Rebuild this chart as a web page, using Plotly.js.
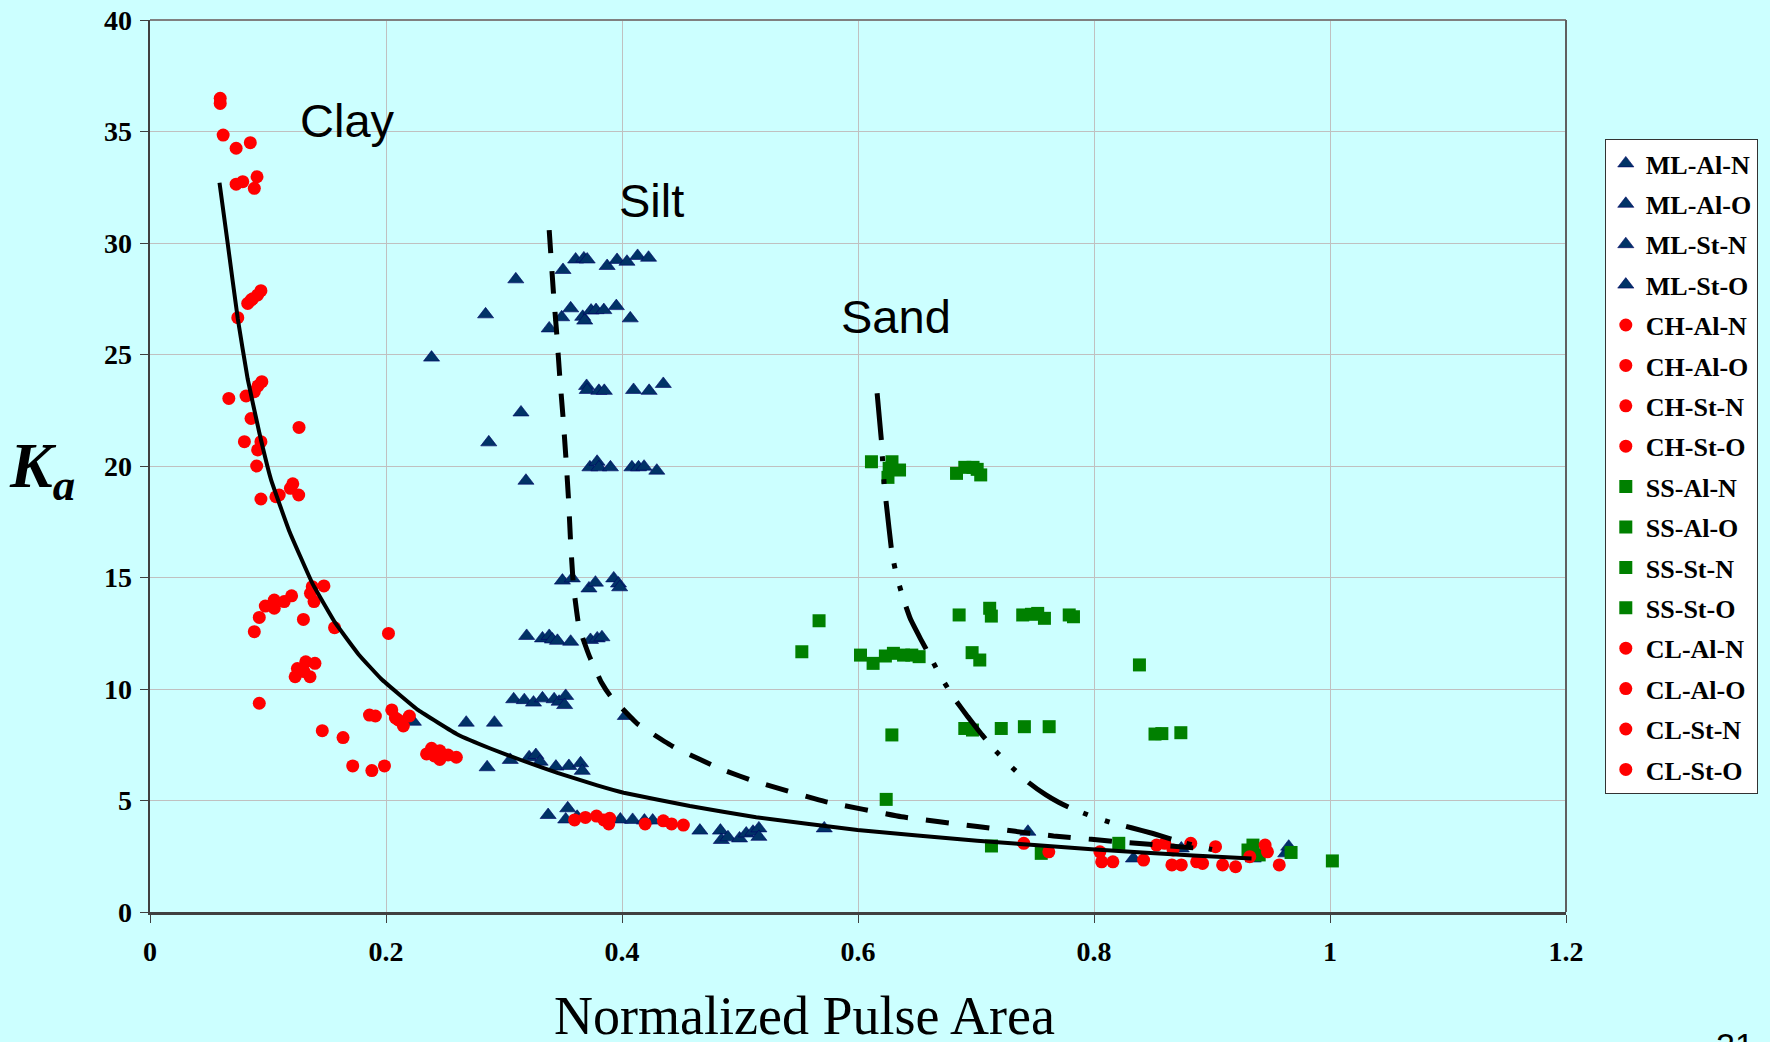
<!DOCTYPE html>
<html>
<head>
<meta charset="utf-8">
<script src="https://cdn.plot.ly/plotly-3.0.1.min.js"></script>
<style>html,body{margin:0;padding:0;background:#CCFFFF;}</style>
</head>
<body>
<div id="chart" style="width:1770px;height:1042px;"></div>
<script>
// ---------- Data ----------
// ML (silt) series – blue triangles
const mlAlN_x = [0.3607,0.3677,0.3705,0.350,0.310,0.3874,0.3958,0.4042,0.4132,0.4225,0.3186,0.3728,0.3789,0.3804,0.3902,0.4084,0.414,0.4187,0.4295,0.2386];
const mlAlN_y = [29.26,29.31,29.26,28.79,28.37,28.97,29.24,29.16,29.42,29.34,19.34,19.94,20.19,19.94,19.94,19.94,19.94,19.97,19.79,24.86];
const mlAlO_x = [0.2844,0.3383,0.3489,0.3565,0.3667,0.3684,0.3738,0.378,0.3846,0.3952,0.4070,0.3495,0.3579,0.372,0.3775,0.393,0.397,0.398,0.3144,0.2871];
const mlAlO_y = [26.8,26.17,26.67,27.07,26.69,26.52,26.97,26.99,26.99,27.17,26.62,14.86,14.96,14.51,14.77,14.96,14.73,14.56,22.4,21.06];
const mlStN_x = [0.370,0.3705,0.3804,0.385,0.4098,0.423,0.435,0.3192,0.3326,0.3383,0.341,0.3453,0.3565,0.3733,0.379,0.383,0.4028,0.268,0.2919,0.2232];
const mlStN_y = [23.59,23.41,23.37,23.37,23.41,23.37,23.68,12.38,12.27,12.38,12.22,12.16,12.12,12.2,12.27,12.32,8.79,8.49,8.49,8.53];
const mlStO_x = [0.3082,0.3172,0.325,0.3326,0.3425,0.3467,0.3523,0.3514,0.2857,0.3053,0.3213,0.327,0.3306,0.344,0.355,0.3649,0.3663,0.3374,0.354,0.3523,0.362,0.3986,0.409,0.419,0.426,0.466,0.4834,0.4842,0.4898,0.4996,0.5053,0.511,0.516,0.516,0.5714,0.744,0.8334,0.874,0.935,0.9625,0.965];
const mlStO_y = [9.54,9.5,9.39,9.58,9.54,9.43,9.69,9.28,6.49,6.82,6.94,7.04,6.74,6.52,6.55,6.67,6.33,4.35,4.65,4.15,4.27,4.15,4.13,4.1,4.1,3.65,3.65,3.23,3.35,3.3,3.52,3.6,3.75,3.37,3.75,3.6,2.4,2.85,2.4,2.63,2.93];

// CH (high plasticity clay) – red circles
const chAlN_x = [0.0595,0.0595,0.062,0.073,0.085,0.073,0.0786,0.0907,0.0884,0.094,0.0912,0.0856,0.0828,0.0870,0.0744];
const chAlN_y = [36.49,36.26,34.84,34.25,34.5,32.64,32.75,32.97,32.45,27.86,27.67,27.44,27.29,27.5,26.65];
const chAlO_x = [0.0948,0.0915,0.0884,0.0814,0.0668,0.0856,0.1263,0.08,0.094,0.0912,0.0904,0.119,0.1095,0.126,0.094,0.1067,0.121];
const chAlO_y = [23.78,23.59,23.33,23.14,23.03,22.13,21.73,21.09,21.09,20.72,20.0,19.0,18.7,18.7,18.52,18.62,19.2];
const chStN_x = [0.1375,0.1474,0.136,0.139,0.120,0.1137,0.1053,0.0977,0.1053,0.0926,0.0884,0.13,0.1564,0.2021];
const chStN_y = [14.59,14.62,14.29,13.92,14.18,13.92,13.99,13.72,13.62,13.21,12.57,13.12,12.75,12.49];
const chStO_x = [0.132,0.1398,0.1249,0.123,0.1356,0.1305,0.0926,0.146,0.1636,0.1718,0.188,0.1987,0.186,0.191,0.2049,0.2105,0.2147,0.2198,0.208,0.2344,0.2386,0.2456,0.2456,0.2526,0.2596,0.241];
const chStO_y = [11.22,11.15,10.92,10.55,10.55,10.78,9.36,8.13,7.82,6.55,6.34,6.55,8.83,8.79,9.06,8.61,8.34,8.79,8.7,7.09,7.34,7.23,6.84,7.04,6.94,7.0];

// SS (sand) – green squares
const ssAlN_x = [0.6114,0.6288,0.6352,0.6254,0.6264,0.6835,0.6905,0.6975,0.704,0.701];
const ssAlN_y = [20.19,20.19,19.82,19.49,19.9,19.67,19.94,19.94,19.6,19.85];
const ssAlO_x = [0.567,0.6857,0.7116,0.713,0.7396,0.7523,0.758,0.779,0.7826,0.747];
const ssAlO_y = [13.06,13.32,13.62,13.27,13.32,13.39,13.17,13.32,13.24,13.35];
const ssStN_x = [0.5524,0.6021,0.6128,0.6232,0.630,0.6386,0.6456,0.6518,0.6967,0.7032,0.8385];
const ssStN_y = [11.67,11.52,11.15,11.48,11.6,11.52,11.52,11.45,11.63,11.3,11.08];
const ssStO_x = [0.6905,0.697,0.7214,0.741,0.762,0.6287,0.8517,0.8575,0.8736,0.6239,0.7131,0.7553,0.821,0.9347,0.9305,0.940,0.967,1.002];
const ssStO_y = [8.23,8.16,8.23,8.31,8.31,7.94,7.98,8.0,8.04,5.05,2.96,2.63,3.08,3.0,2.78,2.56,2.67,2.29];

// CL (low plasticity clay) – red circles
const clAlN_x = [0.3598,0.369,0.3784,0.3846,0.3896,0.3888,0.4196,0.435,0.442,0.452];
const clAlN_y = [4.13,4.24,4.30,4.13,4.20,3.95,3.95,4.09,3.95,3.90];
const clAlO_x = [0.7405,0.7617,0.805,0.8065,0.816,0.842,0.853];
const clAlO_y = [3.08,2.70,2.70,2.25,2.25,2.33,3.0];
const clStN_x = [0.860,0.866,0.874,0.882,0.887,0.892,0.867];
const clStN_y = [3.08,2.11,2.11,3.08,2.25,2.18,2.78];
const clStO_x = [0.903,0.909,0.920,0.932,0.945,0.947,0.957];
const clStO_y = [2.93,2.11,2.03,2.48,3.0,2.70,2.11];

// Trend curves
const clayCurve_x = [0.0589,0.0658,0.0744,0.0828,0.0926,0.1025,0.1179,0.1375,0.1572,0.1768,0.1960,0.2274,0.2610,0.2890,0.3172,0.3453,0.3790,0.4014,0.4575,0.5137,0.5996,0.7010,0.7979,0.8840,0.9335];
const clayCurve_y = [32.7,30.0,26.6,23.9,21.5,19.4,17.1,14.75,12.95,11.55,10.45,9.05,7.95,7.32,6.76,6.24,5.68,5.35,4.75,4.25,3.68,3.2,2.81,2.53,2.40];
const siltCurve_x = [0.3383,0.3419,0.3447,0.3472,0.3501,0.3526,0.3548,0.3565,0.3588,0.3635,0.3725,0.3825,0.3900,0.4126,0.4435,0.4856,0.5137,0.5723,0.6368,0.7012,0.7657,0.8300,0.8900];
const siltCurve_y = [30.58,27.77,25.92,24.04,22.14,20.27,18.4,16.53,14.66,12.79,11.45,10.3,9.7,8.46,7.41,6.37,5.84,4.95,4.27,3.83,3.41,3.11,2.85];
const sandCurve_x = [0.6162,0.6198,0.6209,0.6223,0.6240,0.6288,0.6324,0.6380,0.6442,0.6530,0.6619,0.6709,0.6820,0.6930,0.7050,0.7172,0.7312,0.7447,0.7593,0.7700,0.7785,0.7963,0.8139,0.8317,0.8500,0.8700,0.8886,0.9000];
const sandCurve_y = [23.26,21.17,20.19,19.12,18.3,16.08,15.16,14.11,13.17,12.25,11.38,10.48,9.55,8.76,7.95,7.19,6.45,5.8,5.25,4.92,4.7,4.33,4.02,3.78,3.52,3.2,2.93,2.8];

const seriesNames = ['ML-Al-N','ML-Al-O','ML-St-N','ML-St-O','CH-Al-N','CH-Al-O','CH-St-N','CH-St-O','SS-Al-N','SS-Al-O','SS-St-N','SS-St-O','CL-Al-N','CL-Al-O','CL-St-N','CL-St-O'];
const xTickVals = [0,0.2,0.4,0.6,0.8,1,1.2];
const yTickVals = [0,5,10,15,20,25,30,35,40];
const zoneLabels = ['Clay','Silt','Sand'];
const zoneX = [0.1676,0.425,0.632];
const zoneY = [35.5,31.9,26.7];

// ---------- Styles ----------
const triStyle = {symbol:'triangle-up', size:14, color:'#003366', line:{color:'#000066', width:0.6}};
const cirStyle = {symbol:'circle', size:13, color:'#FF0000', line:{width:0}};
const sqStyle  = {symbol:'square', size:13, color:'#008000', line:{width:0}};

const seriesData = [
  [mlAlN_x, mlAlN_y, triStyle],[mlAlO_x, mlAlO_y, triStyle],[mlStN_x, mlStN_y, triStyle],[mlStO_x, mlStO_y, triStyle],
  [chAlN_x, chAlN_y, cirStyle],[chAlO_x, chAlO_y, cirStyle],[chStN_x, chStN_y, cirStyle],[chStO_x, chStO_y, cirStyle],
  [ssAlN_x, ssAlN_y, sqStyle],[ssAlO_x, ssAlO_y, sqStyle],[ssStN_x, ssStN_y, sqStyle],[ssStO_x, ssStO_y, sqStyle],
  [clAlN_x, clAlN_y, cirStyle],[clAlO_x, clAlO_y, cirStyle],[clStN_x, clStN_y, cirStyle],[clStO_x, clStO_y, cirStyle]
];

const traces = seriesData.map((s, i) => ({
  type:'scatter', mode:'markers', name: seriesNames[i], legendgroup: 'g' + i,
  x: s[0], y: s[1], marker: s[2], cliponaxis: true
}));

traces.push({type:'scatter', mode:'lines', x: clayCurve_x, y: clayCurve_y, showlegend:false,
  line:{color:'#000000', width:4, shape:'spline', smoothing:0.3}, hoverinfo:'skip'});
traces.push({type:'scatter', mode:'lines', x: siltCurve_x, y: siltCurve_y, showlegend:false,
  line:{color:'#000000', width:5, dash:'23px,18px', shape:'spline', smoothing:0.3}, hoverinfo:'skip'});
traces.push({type:'scatter', mode:'lines', x: sandCurve_x, y: sandCurve_y, showlegend:false,
  line:{color:'#000000', width:5, dash:'47px,16px,5px,18px,5px,17px', shape:'spline', smoothing:0.3}, hoverinfo:'skip'});

const tickFont = {family:'"Liberation Serif", "Times New Roman", serif', size:28, color:'#000000', weight:'bold'};

const annotations = zoneLabels.map((t, i) => ({
  text: t, x: zoneX[i], y: zoneY[i], xref:'x', yref:'y', showarrow:false,
  xanchor:'center', yanchor:'middle',
  font:{family:'"Liberation Sans", Arial, sans-serif', size:47, color:'#000000'}
}));
annotations.push({
  text:'<b><i>K<sub>a</sub></i></b>', xref:'paper', yref:'paper', x:-0.1008, y:0.4955,
  xanchor:'left', yanchor:'middle', showarrow:false,
  font:{family:'"Liberation Serif", "Times New Roman", serif', size:64, color:'#000000'}
});
annotations.push({
  text:'Normalized Pulse Area', xref:'paper', yref:'paper', x:0.4625, y:-0.117,
  xanchor:'center', yanchor:'middle', showarrow:false,
  font:{family:'"Liberation Serif", "Times New Roman", serif', size:54, color:'#000000'}
});
annotations.push({
  text:'21', xref:'paper', yref:'paper', x:1.1046, y:-0.1256,
  xanchor:'left', yanchor:'top', showarrow:false,
  font:{family:'"Liberation Sans", Arial, sans-serif', size:34, color:'#000000'}
});

const layout = {
  width:1770, height:1042,
  paper_bgcolor:'#CCFFFF', plot_bgcolor:'#CCFFFF',
  margin:{l:150, r:195, t:20, b:130, pad:0},
  showlegend:true,
  xaxis:{range:[0,1.2], tickvals:xTickVals, ticktext:xTickVals.map(String), showgrid:true, gridcolor:'#C0C0C0', gridwidth:1,
    zeroline:false, showline:true, linecolor:'#404040', linewidth:2.5, ticks:'outside', ticklen:8, tickwidth:1,
    tickcolor:'#404040', tickfont:tickFont, ticklabelstandoff:5, fixedrange:true},
  yaxis:{range:[0,40], tickvals:yTickVals, ticktext:yTickVals.map(String), showgrid:true, gridcolor:'#C0C0C0', gridwidth:1,
    zeroline:false, showline:true, linecolor:'#404040', linewidth:2.5, ticks:'outside', ticklen:8, tickwidth:1,
    tickcolor:'#404040', tickfont:tickFont, ticklabelstandoff:2, fixedrange:true},
  legend:{x:1.0274, y:0.8666, xanchor:'left', yanchor:'top', bgcolor:'#FFFFFF', bordercolor:'#333333', borderwidth:1,
    font:{family:'"Liberation Serif", "Times New Roman", serif', size:26, color:'#000000', weight:'bold'},
    tracegroupgap:3.6, traceorder:'grouped'},
  shapes:[
    {type:'line', xref:'paper', yref:'paper', x0:0, x1:1, y0:1, y1:1, line:{color:'#808080', width:2}, layer:'above'},
    {type:'line', xref:'paper', yref:'paper', x0:1, x1:1, y0:0, y1:1, line:{color:'#606060', width:2}, layer:'above'}
  ],
  annotations: annotations
};

Plotly.newPlot('chart', traces, layout, {displayModeBar:false, staticPlot:true});
</script>
</body>
</html>
